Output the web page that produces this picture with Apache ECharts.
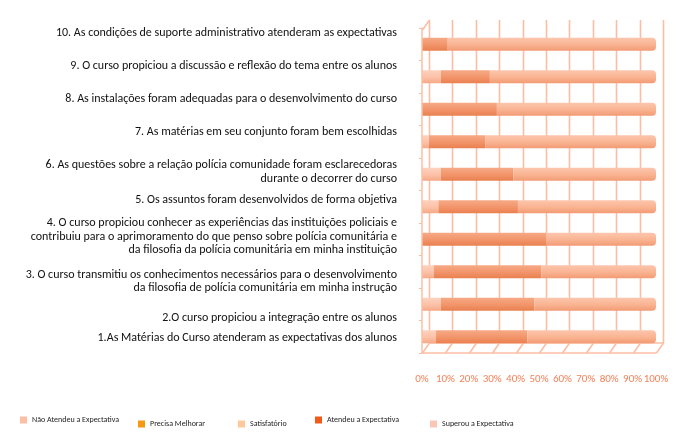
<!DOCTYPE html>
<html><head><meta charset="utf-8">
<script src="https://cdn.jsdelivr.net/npm/echarts@6/dist/echarts.min.js"></script>
<style>html,body{margin:0;padding:0;background:#fff}#c{width:690px;height:443px}</style>
</head><body><div id="c"></div>
<script>
// ---- data ----
const categories = [
  "1.As Matérias do Curso atenderam as expectativas dos alunos",
  "2.O curso propiciou a integração entre os alunos",
  "3. O curso transmitiu os conhecimentos necessários para o desenvolvimento\nda filosofia de polícia comunitária em minha instrução",
  "4. O curso propiciou conhecer as experiências das instituições policiais e\ncontribuiu para o aprimoramento do que penso sobre polícia comunitária e\nda filosofia da polícia comunitária em minha instituição",
  "5. Os assuntos foram desenvolvidos de forma objetiva",
  "6. As questões sobre a relação polícia comunidade foram esclarecedoras\ndurante o decorrer do curso",
  "7. As matérias em seu conjunto foram bem escolhidas",
  "8. As instalações foram adequadas para o desenvolvimento do curso",
  "9. O curso propiciou a discussão e reflexão do tema entre os alunos",
  "10. As condições de suporte administrativo atenderam as expectativas"
];
const seriesNames = ["Não Atendeu a Expectativa", "Precisa Melhorar", "Satisfatório", "Atendeu a Expectativa", "Superou a Expectativa"];
const naoAtendeu     = [0, 0, 0, 0, 0, 0, 0, 0, 0, 0];
const precisaMelhorar= [0, 0, 0, 0, 0, 0, 0, 0, 0, 0];
const satisfatorio   = [6, 8, 5, 0, 7, 8, 3, 0, 8, 0];
const atendeu        = [39, 40, 46, 53, 34, 31, 24, 32, 21, 11];
const superou        = [55, 52, 49, 47, 59, 61, 73, 68, 71, 89];
const xTicks = [0, 10, 20, 30, 40, 50, 60, 70, 80, 90, 100];

// ---- styling ----
const legendColors = ["#fbbfa6", "#f39a12", "#fdc89c", "#f25a1a", "#fbc6b6"];
function grad(top, mid, bot) {
  return new echarts.graphic.LinearGradient(0, 0, 0, 1, [
    {offset: 0, color: top}, {offset: 0.55, color: mid}, {offset: 1, color: bot}]);
}
const barFills = [
  grad("#fdd3c2", "#fbbfa6", "#f4a886"),
  grad("#f8b870", "#f39a12", "#e08a10"),
  grad("#fdd2bf", "#fcc1a7", "#f5a886"),
  grad("#f6aa86", "#f2946a", "#e9804f"),
  grad("#fcc6ad", "#f9b391", "#f29b74")
];
// vertical nudge of each category label (px, + = down), matching the reference layout
const labelNudge = [1.7, 14.2, 10, -2.5, -6.7, -2.2, -10, -9.8, -10.7, -10.8];
const rich = {};
labelNudge.forEach((d, i) => { rich['sp' + i] = {lineHeight: Math.max(1, Math.abs(d) * 2), fontSize: 1}; });

const lineColor = "#fbbea5";
const FONT = "Carlito, Lato, sans-serif";
const valueSeries = [naoAtendeu, precisaMelhorar, satisfatorio, atendeu, superou];
const DEPTH_X = 7, DEPTH_Y = 10;   // pseudo-3D wall offset

const legendPos = [[20, 416], [138, 420], [238, 420], [315, 416], [430, 420]];

const option = {
  animation: false,
  backgroundColor: '#fff',
  textStyle: {fontFamily: FONT},
  grid: {left: 422, right: 34, top: 28, bottom: 90},
  legend: seriesNames.map((n, i) => ({
    left: legendPos[i][0], top: legendPos[i][1], padding: 0,
    icon: 'rect', itemWidth: 7, itemHeight: 7, selectedMode: false,
    textStyle: {fontSize: 8, color: '#222', fontFamily: FONT},
    data: [{name: n, itemStyle: {color: legendColors[i]}}]
  })),
  xAxis: {type: 'value', min: 0, max: 100, interval: 10,
     axisLine: {show: true, lineStyle: {color: lineColor, width: 1.5}},
     axisTick: {show: false}, splitLine: {show: false},
     axisLabel: {margin: 21, color: '#f2825a', fontSize: 11, fontFamily: FONT,
       formatter: v => xTicks.indexOf(v) >= 0 ? v + '%' : ''}},
  yAxis: {type: 'category', data: categories, z: 5,
     axisLine: {show: true, onZero: false, lineStyle: {color: lineColor, width: 1.5}},
     axisTick: {show: true, length: 3, lineStyle: {color: lineColor}},
     axisLabel: {interval: 0, margin: 25, color: '#111', fontSize: 12, lineHeight: 13.3,
       fontFamily: FONT, align: 'right',
       formatter: (v, i) => {
         const d = labelNudge[i];
         if (d < 0) return v + '\n{sp' + i + '| }';
         if (d > 0) return '{sp' + i + '| }\n' + v;
         return v;
       }, rich: rich}},
  series: valueSeries.map((vals, i) => ({
    name: seriesNames[i], type: 'bar', stack: 'total', barWidth: 13,
    data: vals, z: 3,
    itemStyle: {color: barFills[i], borderRadius: i === 4 ? [0, 4, 4, 0] : 0}
  })).concat([
    // pseudo-3D back wall: floor diagonals + vertical gridlines at each tick
    {type: 'custom', silent: true, z: 1, clip: false,
     data: xTicks.map(v => [v, 0]),
     renderItem: (params, api) => {
       const v = api.value(0);
       const pBot = api.coord([v, 0]);
       const pTop = api.coord([v, categories.length - 1]);
       const half = api.size([0, 1])[1] / 2;
       const yB = pBot[1] + half, yT = pTop[1] - half;
       const x = Math.round(pBot[0]) + 0.5;
       const xb = x + DEPTH_X;
       const st = {stroke: lineColor, lineWidth: 1.6};
       const children = [
         {type: 'line', shape: {x1: x, y1: yB, x2: xb, y2: yB - DEPTH_Y}, style: st},
         {type: 'line', shape: {x1: xb, y1: yB - DEPTH_Y, x2: xb, y2: yT - DEPTH_Y + 2}, style: st}
       ];
       if (v === xTicks[0]) {
         const xEnd = Math.round(api.coord([xTicks[xTicks.length - 1], 0])[0]) + 0.5;
         children.push({type: 'line', shape: {x1: xb, y1: yB - DEPTH_Y, x2: xEnd + DEPTH_X, y2: yB - DEPTH_Y}, style: st});
         children.push({type: 'line', shape: {x1: x, y1: yT + 2, x2: xb, y2: yT - DEPTH_Y + 2}, style: st});
       }
       return {type: 'group', children: children};
     }}
  ])
};
echarts.init(document.getElementById('c')).setOption(option);
</script></body></html>
